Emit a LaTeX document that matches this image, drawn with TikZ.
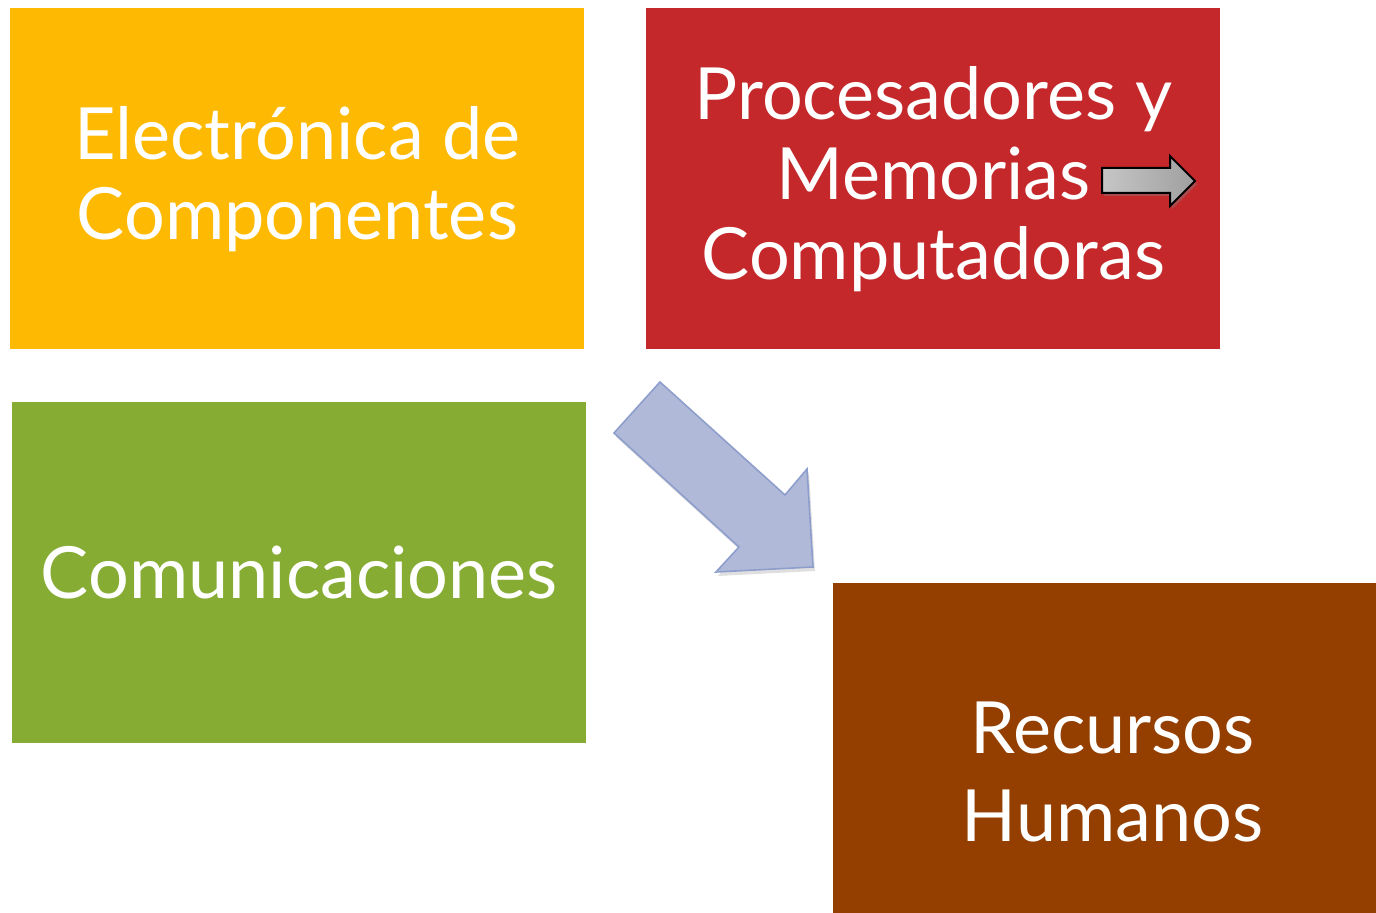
\documentclass[tikz,border=0pt]{standalone}
\usepackage{fontspec}
\setmainfont{Lato}
\usetikzlibrary{shadows}

\definecolor{tileyellow}{HTML}{FEB902}
\definecolor{tilered}{HTML}{C4282B}
\definecolor{tilegreen}{HTML}{86AC33}
\definecolor{tilebrown}{HTML}{943F00}
\definecolor{arrowblue}{HTML}{B0BAD8}
\definecolor{arrowedge}{HTML}{8E9ECC}

\tikzset{
  tile/.style={anchor=north west, minimum width=287pt, minimum height=170.5pt,
    inner sep=0pt, text=white, align=center, font=\fontsize{36}{40}\selectfont},
}

\begin{document}
\begin{tikzpicture}[x=0.5pt,y=-0.5pt]
        \useasboundingbox (0,0) rectangle (1376,913);
        \clip (0,0) rectangle (1376,913);

        % tiles
        \node[tile, fill=tileyellow] (electronica) at (10,8) {Electrónica de\\Componentes};
        \node[tile, fill=tilered] (procesadores) at (646,8) {Procesadores y\\Memorias\\Computadoras};
        \node[tile, fill=tilegreen] (comunicaciones) at (12,402) {Comunicaciones};
        % runs off the page at the right and bottom
        \node[tile, fill=tilebrown, minimum width=279pt, minimum height=189pt,
          font=\fontsize{36}{44}\selectfont] (recursos) at (833,583) {Recursos\\Humanos};

        % small grey arrow
        \coordinate (g1) at (1102,168);
        \coordinate (g2) at (1170,168);
        \coordinate (g3) at (1170,156);
        \coordinate (g4) at (1195,181);
        \coordinate (g5) at (1170,206);
        \coordinate (g6) at (1170,193);
        \coordinate (g7) at (1102,193);
        \shade[left color=gray!45, right color=gray!75, draw=black, line width=1pt,
          drop shadow={opacity=0.4, shadow xshift=1pt, shadow yshift=-1.5pt}]
          (g1) -- (g2) -- (g3) -- (g4) -- (g5) -- (g6) -- (g7) -- cycle;

        % big arrow
        \coordinate (b1) at (660,382);
        \coordinate (b2) at (785,495);
        \coordinate (b3) at (807,469);
        \coordinate (b4) at (813,567);
        \coordinate (b5) at (716,572);
        \coordinate (b6) at (739,547);
        \coordinate (b7) at (614,433);
        \draw[fill=arrowblue, draw=arrowedge, line width=0.8pt,
          drop shadow={opacity=0.25, shadow xshift=1pt, shadow yshift=-2pt}]
          (b1) -- (b2) -- (b3) -- (b4) -- (b5) -- (b6) -- (b7) -- cycle;
\end{tikzpicture}
\end{document}
